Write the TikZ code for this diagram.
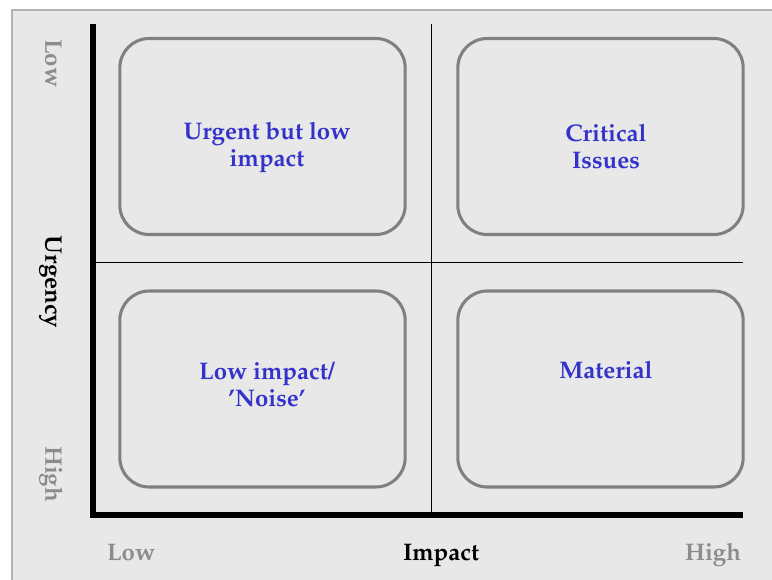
\documentclass[tikz,border=0pt]{standalone}
\usepackage[T1]{fontenc}
\usepackage{mathpazo}
\begin{document}
\begin{tikzpicture}[x=0.75pt,y=-0.75pt,
  quad/.style={draw=boxgray,line width=2.3pt,rounded corners=22pt,minimum width=214pt,minimum height=147pt,inner sep=0pt},
  lbl/.style={text=lblue,font=\fontsize{18}{20.3}\selectfont\bfseries,align=center},
  axlbl/.style={font=\fontsize{18}{20}\selectfont\bfseries,text height=12.5pt,text depth=4pt},
  axgray/.style={axlbl,text=lgray}]
\definecolor{bg}{HTML}{E8E8E8}
\definecolor{boxgray}{HTML}{808080}
\definecolor{lblue}{HTML}{3333CC}
\definecolor{lgray}{HTML}{8C8C8C}
\useasboundingbox (0,0) rectangle (772,579);
\fill[white] (0,0) rectangle (772,579);
\draw[draw=black!30,fill=bg,line width=0.9pt] (12,10) rectangle (775,582);
% grid lines
\coordinate (vt) at (431,24);
\coordinate (vb) at (431,512);
\coordinate (hl) at (93,262);
\coordinate (hr) at (743,262);
\draw[line width=0.6pt] (vt) -- (vb);
\draw[line width=0.6pt] (hl) -- (hr);
% boxes
\node[quad] (tl) at (262.5,136.5) {};
\node[quad] (tr) at (600.5,136.5) {};
\node[quad] (bl) at (262.5,389) {};
\node[quad] (br) at (600.5,389) {};
\node[lbl] (tlt) at (267,147) {Urgent but low\\impact};
\node[lbl] (trt) at (606,146) {Critical\\Issues};
\node[lbl] (blt) at (267,384) {Low impact/\\'Noise'};
\node[lbl] (brt) at (606,370) {Material};
% axes
\coordinate (ytop) at (93,24);
\coordinate (orig) at (93,515);
\coordinate (xend) at (743,515);
\draw[line width=5pt] (ytop) -- (orig) -- (xend);
% axis labels
\node[axlbl] (imp) at (441,555) {Impact};
\node[axgray] (xlow) at (131,555) {Low};
\node[axgray] (xhigh) at (713,555) {High};
\node[axlbl,rotate=-90] (urg) at (51,282) {Urgency};
\node[axgray,rotate=-90] (ylow) at (51,63) {Low};
\node[axgray,rotate=-90] (yhigh) at (51,474) {High};
\end{tikzpicture}
\end{document}
